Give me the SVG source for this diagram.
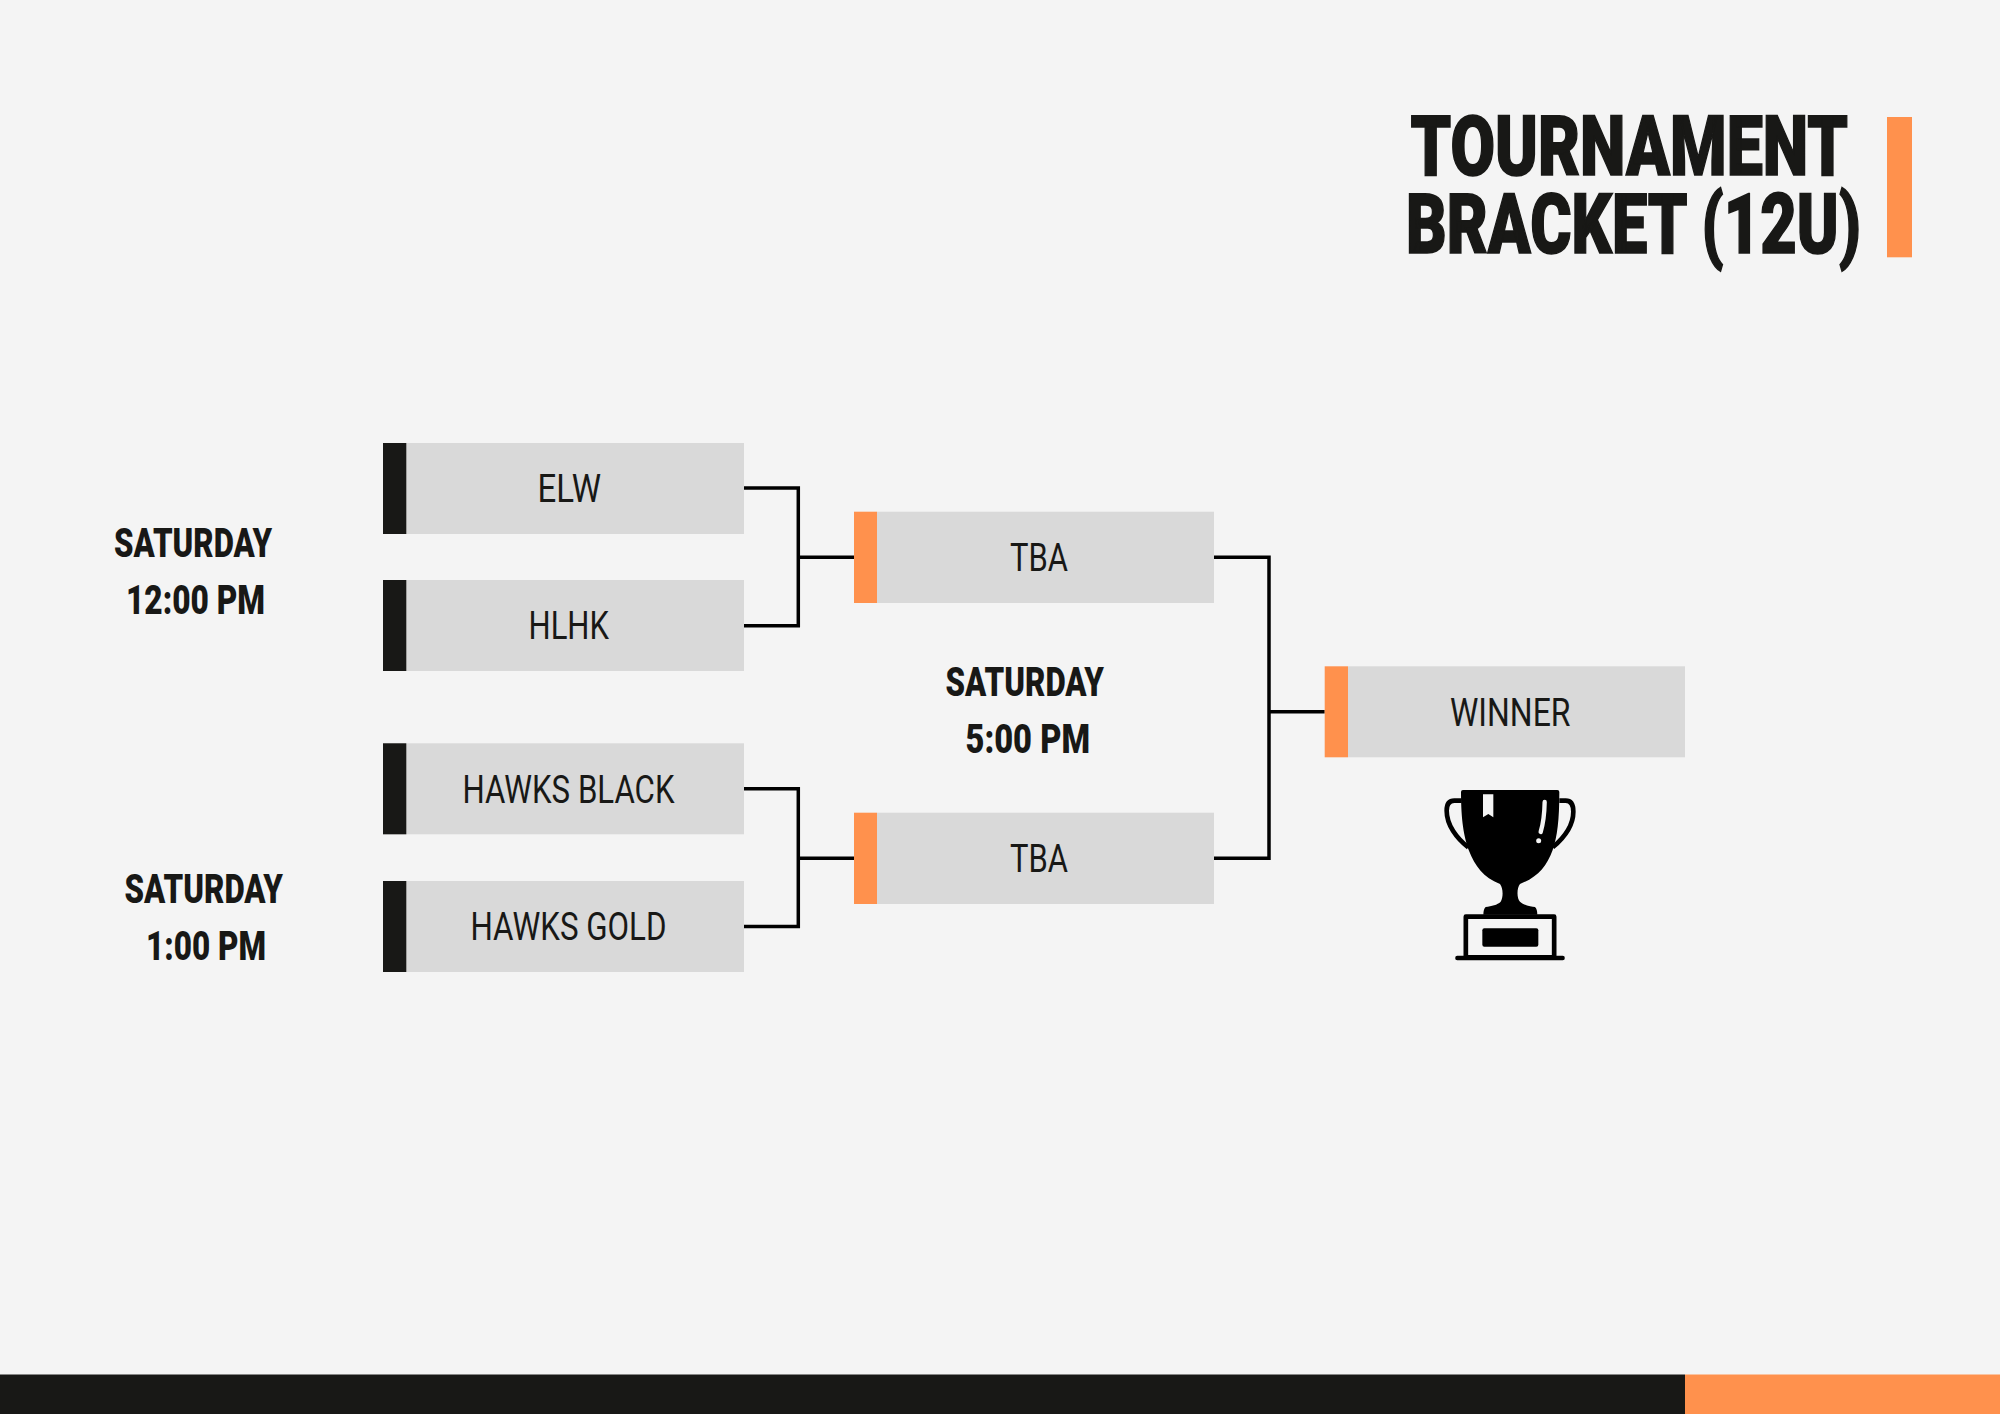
<svg xmlns="http://www.w3.org/2000/svg" width="2000" height="1414" viewBox="0 0 2000 1414">
<style>
text{font-family:Roboto,"Open Sans","Liberation Sans",sans-serif;fill:#181816}
.lb{font-size:39px;font-weight:400}
.dt{font-size:40px;font-weight:900}
.tt{font-size:83px;font-weight:900;stroke:#181816;stroke-width:1.6px}
.g{fill:#d9d9d9}.k{fill:#181816}.o{fill:#ff914d}
.c{fill:none;stroke:#000;stroke-width:3.5}
</style>
<rect width="2000" height="1414" fill="#f4f4f4"/>
<g id="footer"><rect y="1374.500" width="1685" height="39.500" class="k"/><rect x="1685" y="1374.500" width="315" height="39.500" class="o"/></g>
<g id="title">
<text class="tt" x="1410.500" y="174.700" textLength="437.500" lengthAdjust="spacingAndGlyphs">TOURNAMENT</text>
<text class="tt" x="1406" y="253.400" textLength="455" lengthAdjust="spacingAndGlyphs">BRACKET (12U)</text>
<rect x="1887" y="117" width="25" height="140.300" class="o"/>
</g>
<g id="connectors">
<path class="c" d="M744 488H798.300V625.700H744M798.300 557.300H854"/>
<path class="c" d="M744 788.800H798.300V926.500H744M798.300 858.300H854"/>
<path class="c" d="M1214 557.300H1269V858.300H1214M1269 711.800H1324.700"/>
</g>
<g id="node-elw"><rect x="383" y="443" width="361" height="91" class="g"/><rect x="383" y="443" width="23.300" height="91" class="k"/><text class="lb" x="537.500" y="501.700" textLength="63.500" lengthAdjust="spacingAndGlyphs">ELW</text></g>
<g id="node-hlhk"><rect x="383" y="580" width="361" height="91" class="g"/><rect x="383" y="580" width="23.300" height="91" class="k"/><text class="lb" x="528.500" y="639" textLength="80.500" lengthAdjust="spacingAndGlyphs">HLHK</text></g>
<g id="node-hawks-black"><rect x="383" y="743.300" width="361" height="91" class="g"/><rect x="383" y="743.300" width="23.300" height="91" class="k"/><text class="lb" x="462.500" y="802.700" textLength="212" lengthAdjust="spacingAndGlyphs">HAWKS BLACK</text></g>
<g id="node-hawks-gold"><rect x="383" y="881" width="361" height="91" class="g"/><rect x="383" y="881" width="23.300" height="91" class="k"/><text class="lb" x="470.500" y="940" textLength="196" lengthAdjust="spacingAndGlyphs">HAWKS GOLD</text></g>
<g id="node-tba-1"><rect x="877" y="511.700" width="337" height="91.300" class="g"/><rect x="854" y="511.700" width="23" height="91.300" class="o"/><text class="lb" x="1010" y="570.700" textLength="58" lengthAdjust="spacingAndGlyphs">TBA</text></g>
<g id="node-tba-2"><rect x="877" y="812.700" width="337" height="91.300" class="g"/><rect x="854" y="812.700" width="23" height="91.300" class="o"/><text class="lb" x="1010" y="871.700" textLength="58" lengthAdjust="spacingAndGlyphs">TBA</text></g>
<g id="node-winner"><rect x="1348" y="666.300" width="337" height="91" class="g"/><rect x="1324.700" y="666.300" width="23.300" height="91" class="o"/><text class="lb" x="1450" y="726" textLength="120.500" lengthAdjust="spacingAndGlyphs">WINNER</text></g>
<g id="label-sat-12"><text class="dt" x="114" y="557" textLength="158" lengthAdjust="spacingAndGlyphs">SATURDAY</text><text class="dt" x="126" y="614" textLength="139" lengthAdjust="spacingAndGlyphs">12:00 PM</text></g>
<g id="label-sat-5"><text class="dt" x="945.500" y="695.700" textLength="158.500" lengthAdjust="spacingAndGlyphs">SATURDAY</text><text class="dt" x="965.500" y="752.700" textLength="124.500" lengthAdjust="spacingAndGlyphs">5:00 PM</text></g>
<g id="label-sat-1"><text class="dt" x="124.500" y="903" textLength="158.500" lengthAdjust="spacingAndGlyphs">SATURDAY</text><text class="dt" x="146" y="959.700" textLength="120" lengthAdjust="spacingAndGlyphs">1:00 PM</text></g>
<g id="trophy" transform="translate(1400 770) scale(.33333)">
<path d="M183 66Q183 60 189 60H472Q478 60 478 66C478 150 472 200 458 240C440 290 412 322 360 342C350 355 350 385 360 395C372 406 395 410 405 411Q412 418 412 434H250Q250 418 257 411C275 408 292 405 302 395C310 382 310 355 300 342C250 322 226 290 206 240C192 200 183 150 183 66Z"/>
<path d="M185 92H163Q140 92 140 122C140 165 170 205 205 232M478 92H497Q520 92 520 125C520 170 490 205 458 232" fill="none" stroke="#000" stroke-width="14"/>
<rect x="197.500" y="440" width="265" height="122" fill="none" stroke="#000" stroke-width="14" stroke-linejoin="round"/>
<rect x="247" y="475" width="168" height="55" rx="6"/>
<path d="M172 564H488" stroke="#000" stroke-width="13" stroke-linecap="round"/>
<path d="M249 73H280V142L265 132L249 142Z" fill="#f4f4f4"/>
<path d="M434 96Q433 150 422 186" fill="none" stroke="#f4f4f4" stroke-width="13" stroke-linecap="round"/>
<circle cx="416" cy="212" r="7.500" fill="#f4f4f4"/>
</g>
</svg>
